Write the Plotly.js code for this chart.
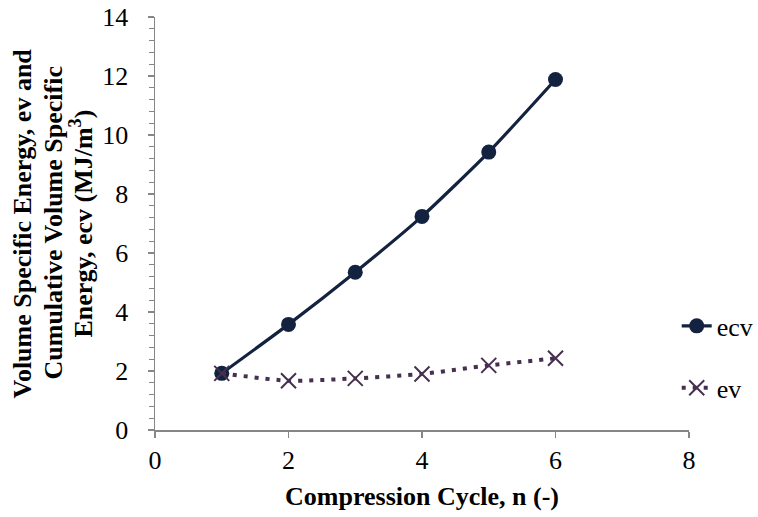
<!DOCTYPE html>
<html>
<head>
<meta charset="utf-8">
<script src="https://cdn.plot.ly/plotly-3.0.1.min.js"></script>
<style>html,body{margin:0;padding:0;background:#fff;}#chart{width:758px;height:517px;}</style>
</head>
<body>
<div id="chart"></div>
<script>
const cycles = [1, 2, 3, 4, 5, 6];
const ecv = [1.92, 3.58, 5.35, 7.24, 9.42, 11.88];
const ev = [1.92, 1.67, 1.75, 1.90, 2.19, 2.43];
const xTicks = [0, 2, 4, 6, 8];
const yTicks = [0, 2, 4, 6, 8, 10, 12, 14];
const yTitleLines = ['Volume Specific Energy, ev and', 'Cumulative Volume Specific', 'Energy, ecv (MJ/m<sup>3</sup>)'];

const font = '"Liberation Serif", "Times New Roman", "DejaVu Serif", serif';
const FS = 26;

const traces = [
  {
    x: cycles, y: ecv, name: 'ecv', type: 'scatter', mode: 'lines+markers',
    line: {color: '#13233f', width: 3.2, shape: 'spline', smoothing: 0.6},
    marker: {symbol: 'circle', size: 15, color: '#13233f'},
    legend: 'legend'
  },
  {
    x: cycles, y: ev, name: 'ev', type: 'scatter', mode: 'lines+markers',
    line: {color: '#47304f', width: 4, dash: '4px,7px', shape: 'spline', smoothing: 0.6},
    marker: {symbol: 'x-thin', size: 15, color: '#47304f', line: {color: '#47304f', width: 2}},
    legend: 'legend2'
  }
];

const titleX = [-0.2472, -0.191, -0.1367];
const annotations = yTitleLines.map((t, i) => ({
  text: '<b>' + t + '</b>', xref: 'paper', yref: 'paper', x: titleX[i], y: 0.5,
  xanchor: 'center', yanchor: 'middle', textangle: -90, showarrow: false,
  font: {family: font, size: FS, color: '#000'}
}));

const layout = {
  width: 758, height: 517,
  margin: {l: 155, r: 69, t: 17, b: 87, autoexpand: false},
  paper_bgcolor: '#fff', plot_bgcolor: '#fff',
  font: {family: font, size: FS, color: '#000'},
  showlegend: true,
  annotations: annotations,
  legend: {x: 0.977, y: 0.252, xanchor: 'left', yanchor: 'middle', bgcolor: 'rgba(0,0,0,0)', font: {family: font, size: FS}},
  legend2: {x: 0.977, y: 0.102, xanchor: 'left', yanchor: 'middle', bgcolor: 'rgba(0,0,0,0)', font: {family: font, size: FS}},
  xaxis: {
    range: [0, 8], tickvals: xTicks, ticktext: xTicks.map(String),
    showgrid: false, zeroline: false, showline: true, linecolor: '#868686', linewidth: 1.5,
    ticks: 'outside', ticklen: 6, tickcolor: '#868686', tickwidth: 1.5,
    tickfont: {family: font, size: FS},
    title: {text: '<b>Compression Cycle, n (-)</b>', font: {family: font, size: FS}, standoff: 13},
    automargin: false
  },
  yaxis: {
    range: [0, 14], tickvals: yTicks, ticktext: yTicks.map(String),
    showgrid: false, zeroline: false, showline: true, linecolor: '#868686', linewidth: 1.5,
    ticks: 'outside', ticklen: 6, tickcolor: '#868686', tickwidth: 1.5,
    ticklabelstandoff: 14,
    minor: {dtick: 0.4, ticks: 'outside', ticklen: 5, tickcolor: '#868686', tickwidth: 1.2, showgrid: false},
    tickfont: {family: font, size: FS},
    automargin: false
  }
};

Plotly.newPlot('chart', traces, layout, {displayModeBar: false, staticPlot: true});
</script>
</body>
</html>
